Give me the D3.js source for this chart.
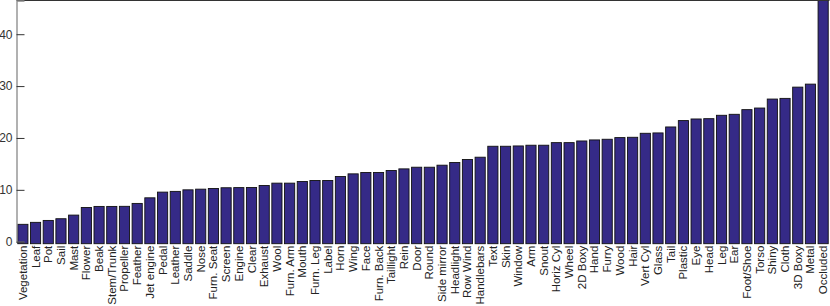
<!doctype html>
<html lang="en">
<head>
<meta charset="utf-8">
<title>Bar chart</title>
<script src="https://d3js.org/d3.v7.min.js"></script>
<style>
    body { margin: 0; background: #fff; }
    svg text { font-family: "Liberation Sans", Arial, sans-serif; fill: #222; }
</style>
</head>
<body>
<div id="chart"></div>
<script>

// categories, left to right
var categories = ["Vegetation", "Leaf", "Pot", "Sail", "Mast", "Flower", "Beak", "Stem/Trunk",
    "Propeller", "Feather", "Jet engine", "Pedal", "Leather", "Saddle", "Nose", "Furn. Seat",
    "Screen", "Engine", "Clear", "Exhaust", "Wool", "Furn. Arm", "Mouth", "Furn. Leg",
    "Label", "Horn", "Wing", "Face", "Furn. Back", "Taillight", "Rein", "Door",
    "Round", "Side mirror", "Headlight", "Row Wind", "Handlebars", "Text", "Skin", "Window",
    "Arm", "Snout", "Horiz Cyl", "Wheel", "2D Boxy", "Hand", "Furry", "Wood",
    "Hair", "Vert Cyl", "Glass", "Tail", "Plastic", "Eye", "Head", "Leg",
    "Ear", "Foot/Shoe", "Torso", "Shiny", "Cloth", "3D Boxy", "Metal", "Occluded"];

// bar heights
var values = [3.35, 3.73, 4.1, 4.43, 5.13, 6.6, 6.8, 6.8,
    6.82, 7.38, 8.46, 9.56, 9.7, 10.0, 10.13, 10.26,
    10.4, 10.43, 10.45, 10.84, 11.29, 11.29, 11.6, 11.8,
    11.8, 12.57, 13.08, 13.34, 13.34, 13.72, 14.04, 14.36,
    14.36, 14.75, 15.27, 15.85, 16.29, 18.4, 18.4, 18.46,
    18.6, 18.6, 19.1, 19.1, 19.42, 19.62, 19.75, 20.07,
    20.13, 20.9, 20.97, 22.12, 23.35, 23.66, 23.72, 24.37,
    24.56, 25.46, 25.77, 27.5, 27.63, 29.8, 30.38, 46.5];

var yTicks = [0, 10, 20, 30, 40];
var yMax = 46.5;

var width = 830;
var height = 306;
var plotLeft = 16.5, plotRight = 829.5, plotTop = 0.5, plotBottom = 241.7;

var svg = d3.select("#chart").append("svg")
    .attr("width", width)
    .attr("height", height);

//scales
var x = d3.scaleBand()
    .domain(categories)
    .range([plotLeft, plotRight])
    .paddingInner(0.2)
    .paddingOuter(0.1);

var y = d3.scaleLinear()
    .domain([0, yMax])
    .range([plotBottom, plotTop]);

//bars
svg.append("g").selectAll("rect")
    .data(categories)
    .enter().append("rect")
    .attr("x", function(d) { return x(d); })
    .attr("y", function(d, i) { return y(values[i]); })
    .attr("width", x.bandwidth())
    .attr("height", function(d, i) { return plotBottom - y(values[i]) + 2; })
    .attr("fill", "#352a87")
    .attr("stroke", "#111")
    .attr("stroke-width", 0.9);

//top border
svg.append("line")
    .attr("x1", plotLeft).attr("x2", plotRight)
    .attr("y1", plotTop).attr("y2", plotTop)
    .attr("stroke", "#333");

//left axis with ticks pointing inward
var yAxis = svg.append("g")
    .attr("transform", "translate(" + plotLeft + ",0)")
    .call(d3.axisRight(y).tickValues(yTicks).tickSize(8).tickFormat(d3.format("d")));
yAxis.select(".domain").attr("stroke", "#888").attr("stroke-width", 1.3);
yAxis.selectAll(".tick line").attr("stroke", "#333");
yAxis.selectAll(".tick text")
    .attr("x", -4)
    .attr("text-anchor", "end")
    .attr("font-size", "12px")
    .style("fill", "#333");

//category labels, rotated
svg.append("g").selectAll("text")
    .data(categories)
    .enter().append("text")
    .attr("transform", function(d) {
        return "translate(" + (x(d) + x.bandwidth() / 2 + 4) + "," + (plotBottom + 4) + ") rotate(-90)";
    })
    .attr("text-anchor", "end")
    .attr("font-size", "11.5px")
    .text(function(d) { return d; });

</script>
</body>
</html>
